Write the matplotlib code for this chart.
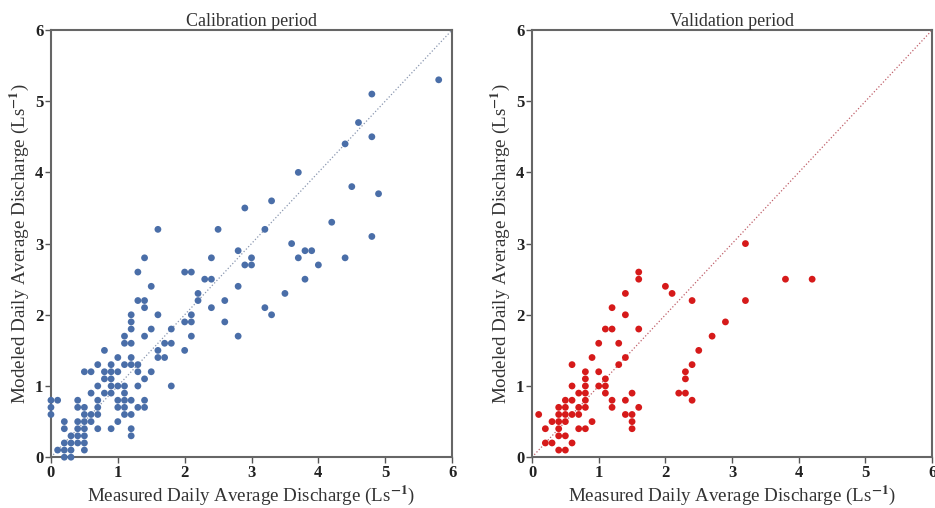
import matplotlib
matplotlib.use('Agg')
import matplotlib.pyplot as plt
import numpy as np

plt.rcParams['font.family'] = ['Liberation Serif', 'DejaVu Serif']
plt.rcParams['mathtext.fontset'] = 'stix'

# ── Calibration period: measured (x) vs modeled (y), L/s ──
cal_x = [0.2, 0.3,
         0.1, 0.2, 0.3, 0.5,
         0.2, 0.3, 0.4, 0.5,
         0.3, 0.4, 0.5, 1.2,
         0.2, 0.4, 0.5, 0.7, 0.9, 1.2,
         0.2, 0.4, 0.5, 0.6, 1.0,
         0.0, 0.5, 0.6, 0.7, 1.1, 1.2,
         0.0, 0.4, 0.5, 0.7, 1.0, 1.1, 1.3, 1.4,
         0.0, 0.1, 0.4, 0.7, 1.0, 1.1, 1.2, 1.4,
         0.6, 0.8, 0.9, 1.1,
         0.7, 0.9, 1.0, 1.1, 1.3, 1.8,
         0.8, 0.9, 1.4,
         0.5, 0.6, 0.8, 0.9, 1.0, 1.3, 1.5,
         0.7, 0.9, 1.1, 1.2, 1.3,
         1.0, 1.2, 1.6, 1.7,
         0.8, 1.6, 2.0,
         1.1, 1.2, 1.7, 1.8,
         1.1, 1.4, 2.1, 2.8,
         1.2, 1.5, 1.8,
         1.2, 2.0, 2.1, 2.6,
         1.2, 1.6, 2.1, 3.3,
         1.4, 2.4, 3.2,
         1.3, 1.4, 2.2, 2.6,
         2.2, 3.5,
         1.5, 2.8,
         2.3, 2.4, 3.8,
         1.3, 2.0, 2.1,
         2.9, 3.0, 4.0,
         1.4, 2.4, 3.0, 3.7, 4.4,
         2.8, 3.8, 3.9,
         3.6, 4.8,
         1.6, 2.5, 3.2,
         4.2, 2.9, 3.3, 4.9, 4.5, 3.7, 4.4, 4.8, 4.6, 4.8, 5.8]
cal_y = [0.0, 0.0,
         0.1, 0.1, 0.1, 0.1,
         0.2, 0.2, 0.2, 0.2,
         0.3, 0.3, 0.3, 0.3,
         0.4, 0.4, 0.4, 0.4, 0.4, 0.4,
         0.5, 0.5, 0.5, 0.5, 0.5,
         0.6, 0.6, 0.6, 0.6, 0.6, 0.6,
         0.7, 0.7, 0.7, 0.7, 0.7, 0.7, 0.7, 0.7,
         0.8, 0.8, 0.8, 0.8, 0.8, 0.8, 0.8, 0.8,
         0.9, 0.9, 0.9, 0.9,
         1.0, 1.0, 1.0, 1.0, 1.0, 1.0,
         1.1, 1.1, 1.1,
         1.2, 1.2, 1.2, 1.2, 1.2, 1.2, 1.2,
         1.3, 1.3, 1.3, 1.3, 1.3,
         1.4, 1.4, 1.4, 1.4,
         1.5, 1.5, 1.5,
         1.6, 1.6, 1.6, 1.6,
         1.7, 1.7, 1.7, 1.7,
         1.8, 1.8, 1.8,
         1.9, 1.9, 1.9, 1.9,
         2.0, 2.0, 2.0, 2.0,
         2.1, 2.1, 2.1,
         2.2, 2.2, 2.2, 2.2,
         2.3, 2.3,
         2.4, 2.4,
         2.5, 2.5, 2.5,
         2.6, 2.6, 2.6,
         2.7, 2.7, 2.7,
         2.8, 2.8, 2.8, 2.8, 2.8,
         2.9, 2.9, 2.9,
         3.0, 3.1,
         3.2, 3.2, 3.2,
         3.3, 3.5, 3.6, 3.7, 3.8, 4.0, 4.4, 4.5, 4.7, 5.1, 5.3]

# ── Validation period ──
val_x = [0.1,
         0.2, 0.2,
         0.3, 0.3,
         0.4, 0.4, 0.4, 0.4, 0.4, 0.4,
         0.5, 0.5, 0.5, 0.5, 0.5, 0.5,
         0.6, 0.6, 0.6, 0.6, 0.6,
         0.7, 0.7, 0.7, 0.7,
         0.8, 0.8, 0.8, 0.8, 0.8, 0.8, 0.8,
         0.9, 0.9,
         1.0, 1.0, 1.0,
         1.1, 1.1, 1.1, 1.1,
         1.2, 1.2, 1.2, 1.2,
         1.3, 1.3,
         1.4, 1.4, 1.4, 1.4, 1.4,
         1.5, 1.5, 1.5, 1.5,
         1.6, 1.6, 1.6, 1.6,
         2.0, 2.1, 2.2,
         2.3, 2.3, 2.3,
         2.4, 2.4, 2.4,
         2.5, 2.7, 2.9,
         3.2, 3.2,
         3.8, 4.2]
val_y = [0.6,
         0.4, 0.2,
         0.5, 0.2,
         0.7, 0.6, 0.5, 0.4, 0.3, 0.1,
         0.8, 0.7, 0.6, 0.5, 0.3, 0.1,
         1.3, 1.0, 0.8, 0.6, 0.2,
         0.9, 0.7, 0.6, 0.4,
         1.2, 1.1, 1.0, 0.9, 0.8, 0.7, 0.4,
         1.4, 0.5,
         1.6, 1.2, 1.0,
         1.8, 1.1, 1.0, 0.9,
         2.1, 1.8, 0.8, 0.7,
         1.6, 1.3,
         2.3, 2.0, 1.4, 0.8, 0.6,
         0.9, 0.6, 0.5, 0.4,
         2.6, 2.5, 1.8, 0.7,
         2.4, 2.3, 0.9,
         1.2, 1.1, 0.9,
         2.2, 1.3, 0.8,
         1.5, 1.7, 1.9,
         3.0, 2.2,
         2.5, 2.5]

ticks = [0, 1, 2, 3, 4, 5, 6]
xlabel = 'Measured Daily Average Discharge (Ls$^{\\mathbf{-1}}$)'
ylabel = 'Modeled Daily Average Discharge (Ls$^{\\mathbf{-1}}$)'

fig = plt.figure(figsize=(9.35, 5.08), dpi=100)
ax1 = fig.add_axes([0.0545, 0.100, 0.429, 0.841])
ax2 = fig.add_axes([0.569, 0.100, 0.428, 0.841])

panels = [
    (ax1, cal_x, cal_y, '#4a6ea8', '#8a97b0', 'Calibration period'),
    (ax2, val_x, val_y, '#d61a1a', '#c0606a', 'Validation period'),
]

for ax, xs, ys, col, lcol, title in panels:
    ax.plot([0, 6], [0, 6], linestyle=':', color=lcol, linewidth=0.9)
    ax.scatter(xs, ys, s=24, color=col, edgecolors='none', zorder=3,
               clip_on=False)
    ax.set_xlim(0, 6)
    ax.set_ylim(0, 6)
    ax.set_xticks(ticks)
    ax.set_yticks(ticks)
    ax.set_xticklabels([str(t) for t in ticks], fontweight='bold',
                       fontsize=12)
    ax.set_yticklabels([str(t) for t in ticks], fontweight='bold',
                       fontsize=12)
    ax.tick_params(direction='out', length=4, width=1, color='#555555',
                   pad=1.5, colors='#222222')
    ax.set_xlabel(xlabel, fontsize=13.7, color='#333333', labelpad=2)
    ax.set_ylabel(ylabel, fontsize=13.7, color='#333333', labelpad=3)
    ax.set_title(title, fontsize=13, color='#333333', pad=3)
    for spine in ax.spines.values():
        spine.set_color('#666666')
        spine.set_linewidth(1.5)

fig.savefig('out.png', dpi=100)
